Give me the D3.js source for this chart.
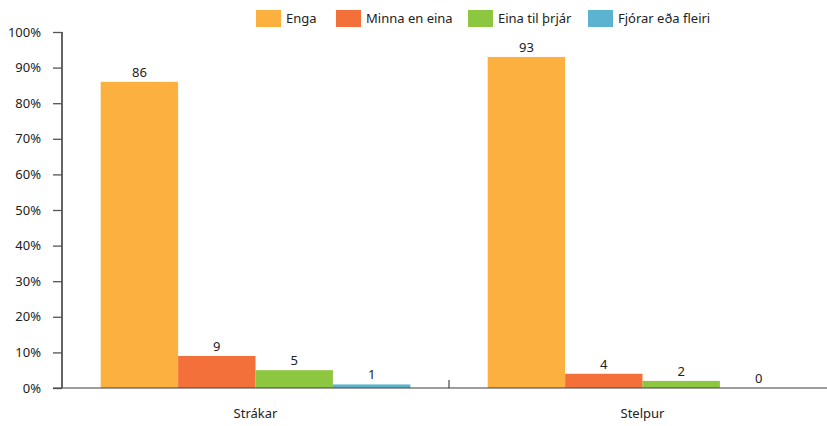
<!DOCTYPE html>
<html>
<head>
<meta charset="utf-8">
<script src="https://cdn.jsdelivr.net/npm/d3@7"></script>
<style>
  body { margin: 0; background: #fff; }
  svg text { font-family: "Noto Sans", sans-serif; fill: #222; }
</style>
</head>
<body>
<svg id="chart"></svg>
<script>
const groups = ['Strákar', 'Stelpur'];
const seriesNames = ['Enga', 'Minna en eina', 'Eina til þrjár', 'Fjórar eða fleiri'];
const strakarValues = [86, 9, 5, 1];
const stelpurValues = [93, 4, 2, 0];
const yTicks = [0, 10, 20, 30, 40, 50, 60, 70, 80, 90, 100];
const colors = ['#FBB040', '#F3703B', '#8DC63F', '#5BB3CF'];

const width = 827, height = 426;
const margin = {top: 32, right: -9, bottom: 38, left: 62};
const innerW = width - margin.left - margin.right;
const innerH = height - margin.top - margin.bottom;

const svg = d3.select('#chart').attr('width', width).attr('height', height);
const chart = svg.append('g').attr('transform', `translate(${margin.left},${margin.top})`);

const data = groups.map((g, i) => ({group: g, values: i === 0 ? strakarValues : stelpurValues}));

const x0 = d3.scaleBand().domain(groups).range([0, innerW]).paddingInner(0).paddingOuter(0);
const x1 = d3.scaleBand().domain(seriesNames).range([x0.bandwidth() * 0.1, x0.bandwidth() * 0.9]).padding(0);
const y = d3.scaleLinear().domain([0, 100]).range([innerH, 0]);

// y axis
const yAxis = d3.axisLeft(y).tickValues(yTicks).tickSize(9).tickPadding(12).tickFormat(d => d + '%');
const yAxisG = chart.append('g').call(yAxis);
yAxisG.select('.domain').attr('stroke', '#111').attr('stroke-width', 1.3).attr('d', `M0,0V${innerH}`);
yAxisG.selectAll('.tick line').attr('stroke', '#555').attr('stroke-width', 1.3);
yAxisG.selectAll('.tick text').style('font-size', '13px').attr('fill', '#222');

// bars
const grp = chart.selectAll('.grp').data(data).join('g')
  .attr('class', 'grp')
  .attr('transform', d => `translate(${x0(d.group)},0)`);

grp.selectAll('rect').data(d => d.values.map((v, i) => ({name: seriesNames[i], v, i}))).join('rect')
  .attr('x', d => x1(d.name))
  .attr('y', d => y(d.v))
  .attr('width', x1.bandwidth())
  .attr('height', d => innerH - y(d.v))
  .attr('fill', d => colors[d.i]);

grp.selectAll('.val').data(d => d.values.map((v, i) => ({name: seriesNames[i], v, i}))).join('text')
  .attr('class', 'val')
  .attr('x', d => x1(d.name) + x1.bandwidth() / 2)
  .attr('y', d => y(d.v) - 5)
  .attr('text-anchor', 'middle')
  .style('font-size', '13px')
  .text(d => d.v);

// baseline
chart.append('line')
  .attr('x1', -9).attr('x2', innerW)
  .attr('y1', innerH).attr('y2', innerH)
  .attr('stroke', '#444').attr('stroke-opacity', 0.7).attr('stroke-width', 1.5);

// category separator ticks
chart.selectAll('.sep').data(groups.slice(1)).join('line')
  .attr('class', 'sep')
  .attr('x1', d => x0(d)).attr('x2', d => x0(d))
  .attr('y1', innerH - 8).attr('y2', innerH)
  .attr('stroke', '#222').attr('stroke-width', 1);

// category labels
chart.selectAll('.cat').data(groups).join('text')
  .attr('class', 'cat')
  .attr('x', d => x0(d) + x0.bandwidth() / 2)
  .attr('y', innerH + 30)
  .attr('text-anchor', 'middle')
  .style('font-size', '13px')
  .text(d => d);

// legend
const legendX = [256, 336, 468, 588];
const legend = svg.selectAll('.leg').data(seriesNames).join('g')
  .attr('class', 'leg')
  .attr('transform', (d, i) => `translate(${legendX[i]},10)`);
legend.append('rect').attr('width', 25).attr('height', 17).attr('fill', (d, i) => colors[i]);
legend.append('text').attr('x', 30).attr('y', 13).style('font-size', '13px').text(d => d);
</script>
</body>
</html>
